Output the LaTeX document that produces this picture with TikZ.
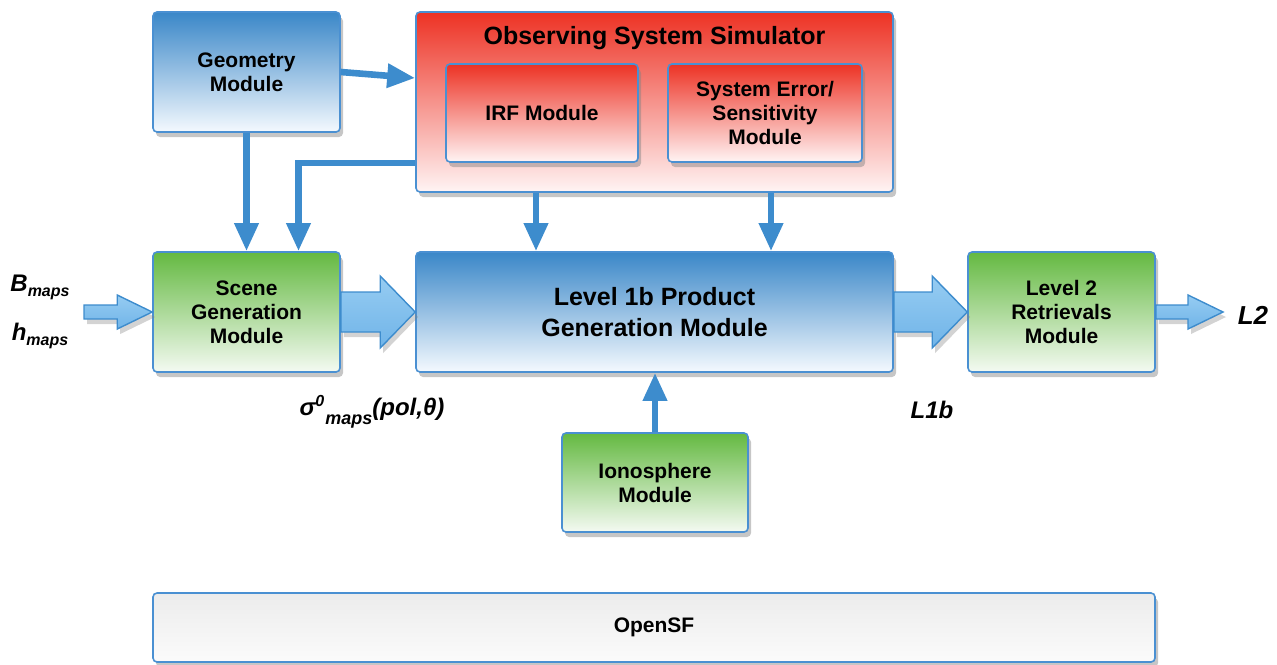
\documentclass[tikz,border=0pt]{standalone}
\usepackage{fontspec}
\setmainfont{Liberation Sans}
\usepackage{xcolor}
\usepackage{tikz}
\usetikzlibrary{calc, arrows.meta, shadows}

\definecolor{boxline}{RGB}{74,144,210}
\definecolor{linkblue}{RGB}{61,140,205}
\definecolor{bluetop}{RGB}{58,135,200}
\definecolor{bluebot}{RGB}{244,249,254}
\definecolor{redtop}{RGB}{237,50,36}
\definecolor{redbot}{RGB}{255,244,244}
\definecolor{greentop}{RGB}{100,185,65}
\definecolor{greenbot}{RGB}{244,250,242}
\definecolor{graytop}{RGB}{236,236,236}
\definecolor{graybot}{RGB}{251,251,251}
\definecolor{fattop}{RGB}{150,204,242}
\definecolor{fatbot}{RGB}{112,180,232}

\tikzset{
  module/.style={draw=boxline, line width=0.8pt, rounded corners=2pt, inner sep=0pt,
    align=center, font=\fontsize{10.5}{12}\selectfont\bfseries,
    drop shadow={shadow xshift=1.5pt, shadow yshift=-2.5pt, opacity=0.45}},
  bluebox/.style={module, top color=bluetop, bottom color=bluebot},
  redbox/.style={module, top color=redtop, bottom color=redbot},
  greenbox/.style={module, top color=greentop, bottom color=greenbot},
  graybox/.style={module, top color=graytop, bottom color=graybot},
  conn/.style={draw=linkblue, line width=3.3pt, -{Triangle[length=14pt,width=11.5pt]}},
  fatarr/.style={draw=linkblue, line width=0.7pt, line join=miter,
    top color=fattop, bottom color=fatbot,
    drop shadow={shadow xshift=1.5pt, shadow yshift=-2.5pt, opacity=0.35}},
  tag/.style={font=\fontsize{12}{14}\selectfont\bfseries\itshape}
}

% block arrow: from, to, half shaft, half head, head length
\newcommand{\blockarrow}[5]{%
  \path[fatarr] let \p1=(#1), \p2=(#2) in
    (\x1,\y1+#3) -- (\x2-#5,\y1+#3) -- (\x2-#5,\y1+#4) -- (\x2,\y1)
    -- (\x2-#5,\y1-#4) -- (\x2-#5,\y1-#3) -- (\x1,\y1-#3) -- cycle;}

\begin{document}
\begin{tikzpicture}[x=0.5pt, y=-0.5pt]
  \useasboundingbox (0,0) rectangle (1277,664);

  % Modules
  \node[bluebox, minimum width=93.5pt, minimum height=60pt] (geom) at (246.5,72) {Geometry\\Module};
  \node[redbox, minimum width=238.5pt, minimum height=90pt] (oss) at (654.5,102) {};
  \node[font=\fontsize{12.5}{14}\selectfont\bfseries] (osstitle) at (654.5,38) {Observing System Simulator};
  \node[redbox, minimum width=96pt, minimum height=49pt] (irf) at (542,113) {IRF Module};
  \node[redbox, minimum width=97pt, minimum height=49pt] (syserr) at (765,113) {System Error/\\Sensitivity\\Module};
  \node[greenbox, minimum width=93.5pt, minimum height=60pt] (scene) at (246.5,312) {Scene\\Generation\\Module};
  \node[bluebox, minimum width=238.5pt, minimum height=60pt,
    font=\fontsize{12.5}{15.5}\selectfont\bfseries] (l1b) at (654.5,312) {Level 1b Product\\Generation Module};
  \node[greenbox, minimum width=93.5pt, minimum height=60pt] (l2) at (1061.5,312) {Level 2\\Retrievals\\Module};
  \node[greenbox, minimum width=93pt, minimum height=49.5pt] (iono) at (655,482.5) {Ionosphere\\Module};
  \node[graybox, minimum width=501pt, minimum height=34.5pt] (opensf) at (654,627.5) {OpenSF};

  % Labels
  \node[tag] (bmaps) at (40,287) {B\raisebox{-0.4ex}{\fontsize{8}{9}\selectfont maps}};
  \node[tag] (hmaps) at (40,336) {h\raisebox{-0.4ex}{\fontsize{8}{9}\selectfont maps}};
  \node[tag] (sigmamaps) at (372,412) {σ\textsuperscript{0}\raisebox{-0.7ex}{\fontsize{9}{10}\selectfont maps}(pol,θ)};
  \node[tag] (l1blabel) at (932,410) {L1b};
  \node[tag, font=\fontsize{13}{15}\selectfont\bfseries\itshape] (l2label) at (1253,315) {L2};

  \coordinate (mapsin) at (84,312);
  \coordinate (l2out) at (1223,312);

  % Connectors
  \draw[conn] (geom.east) -- ([yshift=-3pt]geom.east -| oss.west);
  \draw[conn] (geom.south) -- (scene.north);
  \draw[conn] ([yshift=-30.5pt]oss.west) -| ([xshift=26pt]scene.north);
  \draw[conn] ([xshift=-59.25pt]oss.south) -- ([xshift=-59.25pt]l1b.north);
  \draw[conn] ([xshift=58.25pt]oss.south) -- ([xshift=58.25pt]l1b.north);
  \draw[conn] (iono.north) -- (l1b.south -| iono.north);

  % Block arrows
  \blockarrow{mapsin}{scene.west}{3.5pt}{8.5pt}{17.5pt}
  \blockarrow{scene.east}{l1b.west}{10pt}{18pt}{17.5pt}
  \blockarrow{l1b.east}{l2.west}{10pt}{18pt}{17.5pt}
  \blockarrow{l2.east}{l2out}{3.5pt}{8.5pt}{17.5pt}
\end{tikzpicture}
\end{document}
